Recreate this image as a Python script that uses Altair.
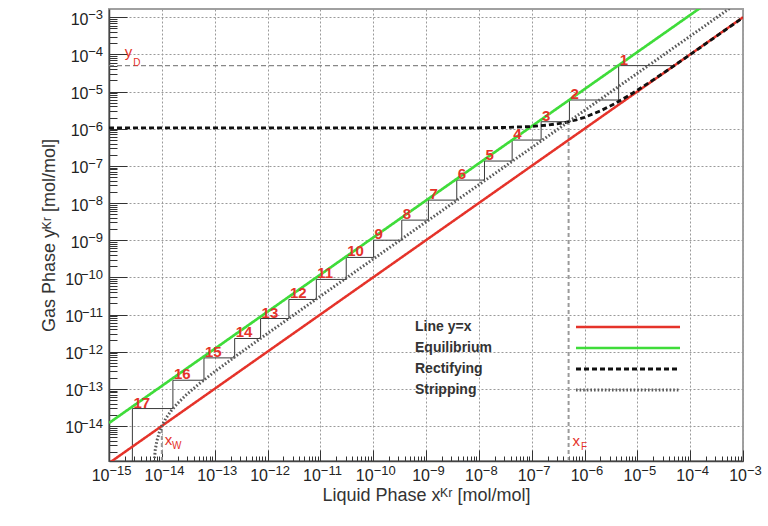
import altair as alt
import pandas as pd

# ---------------- data ----------------
SERIES = ["Line y=x", "Equilibrium", "Rectifying", "Stripping"]

diag_x = [1e-15, 1e-3]
diag_y = [1e-15, 1e-3]

eq_x = [1e-15, 2e-4]
eq_y = [1.2e-14, 2.3e-3]

rect_x = [1e-15, 1e-12, 1e-9, 1e-8, 3e-8, 1e-7, 2e-7, 4e-7, 7e-7, 1e-6,
          2e-6, 4e-6, 7e-6, 1e-5, 2e-5, 5e-5, 1e-4, 1e-3]
rect_y = [1.05e-6, 1.05e-6, 1.05e-6, 1.06e-6, 1.08e-6, 1.15e-6, 1.25e-6, 1.44e-6, 1.74e-6, 2.03e-6,
          3.01e-6, 4.97e-6, 7.91e-6, 1.085e-5, 2.065e-5, 5.0e-5, 9.9e-5, 9.8e-4]

strip_x = [7e-15, 7.5e-15, 8e-15, 9e-15, 1e-14, 1.2e-14, 1.5e-14, 2e-14, 3e-14, 5e-14,
           1e-13, 3e-13, 1e-12, 1e-11, 1e-9, 1e-6, 1e-3]
strip_y = [7e-16, 2.25e-15, 3.8e-15, 6.9e-15, 1.0e-14, 1.62e-14, 2.55e-14, 4.1e-14, 7.2e-14, 1.34e-13,
           2.89e-13, 9.09e-13, 3.08e-12, 3.1e-11, 3.1e-9, 3.1e-6, 3.1e-3]

stage_labels = ["1", "2", "3", "4", "5", "6", "7", "8", "9", "10",
                "11", "12", "13", "14", "15", "16", "17"]
stage_x = [4.43e-6, 5.18e-7, 1.51e-7, 4.27e-8, 1.28e-8, 3.82e-9, 1.11e-9, 3.48e-10, 1.02e-10, 3.09e-11,
           8.4e-12, 2.54e-12, 7.4e-13, 2.39e-13, 6.27e-14, 1.62e-14, 2.77e-15]
stage_y = [5.0e-5, 5.93e-6, 1.543e-6, 4.96e-7, 1.35e-7, 4.15e-8, 1.2e-8, 3.47e-9, 1.0e-9, 3.44e-10,
           8.8e-11, 2.54e-11, 7.8e-12, 2.26e-12, 6.8e-13, 1.7e-13, 2.94e-14]

x_D = 5e-5
y_D = 5e-5
x_F = 5e-7
y_F = 1.54e-6
x_W = 1e-14

x_domain = [1e-15, 1e-3]
y_domain = [1.14e-15, 1.67e-3]

tick_base = "10"
tick_exponents = ["−15", "−14", "−13", "−12", "−11", "−10", "−9",
                  "−8", "−7", "−6", "−5", "−4", "−3"]
x_major = [1e-15, 1e-14, 1e-13, 1e-12, 1e-11, 1e-10, 1e-9, 1e-8, 1e-7, 1e-6, 1e-5, 1e-4, 1e-3]
y_major = [1e-14, 1e-13, 1e-12, 1e-11, 1e-10, 1e-9, 1e-8, 1e-7, 1e-6, 1e-5, 1e-4, 1e-3]

# annotation letters: (text, x, y)
ann_main = [("y", 1.98e-15, 8.5e-5), ("x", 1.13e-14, 3.03e-15), ("x", 5.9e-7, 2.84e-15)]
ann_sub = [("D", 2.87e-15, 4.9e-5), ("W", 1.56e-14, 2.36e-15), ("F", 8.6e-7, 2.22e-15)]

# ---------------- tables ----------------
rows = []
for name, xs, ys in zip(SERIES, [diag_x, eq_x, rect_x, strip_x], [diag_y, eq_y, rect_y, strip_y]):
    for i, (a, b) in enumerate(zip(xs, ys)):
        rows.append({"x": a, "y": b, "series": name, "i": i})
lines_df = pd.DataFrame(rows)

step_pts = [(x_D, stage_y[0])]
for k in range(len(stage_x)):
    step_pts.append((stage_x[k], stage_y[k]))
    nxt = stage_y[k + 1] if k + 1 < len(stage_y) else y_domain[0]
    step_pts.append((stage_x[k], nxt))
steps_df = pd.DataFrame({"x": [p[0] for p in step_pts], "y": [p[1] for p in step_pts],
                         "k": list(range(len(step_pts)))})

yd_df = pd.DataFrame({"x": [x_domain[0], stage_x[0]], "y": [y_D, y_D]})
mark_df = pd.DataFrame({"x": [x_F, x_W], "y0": [y_domain[0], y_domain[0]], "y1": [y_F, x_W]})
stage_df = pd.DataFrame({"x": stage_x, "y": stage_y, "t": stage_labels})
ann_main_df = pd.DataFrame(ann_main, columns=["t", "x", "y"])
ann_sub_df = pd.DataFrame(ann_sub, columns=["t", "x", "y"])

# ---------------- styling ----------------
FONT = "Liberation Sans"
W, H = 634, 452
RED = "#e5332a"

x_minor = [m * 10.0 ** e for e in range(-15, -3) for m in range(2, 10)]
y_minor = [m * 10.0 ** e for e in range(-15, -3) for m in range(2, 10) if m * 10.0 ** e >= y_domain[0]]

base_expr = "'" + tick_base + "'"
exp_expr = "[" + ",".join("'" + s + "'" for s in tick_exponents) + "][round(log(datum.value)/LN10) + 15]"
major_test = "abs(log(datum.value)/LN10 - round(log(datum.value)/LN10)) < 0.01"
two_digit = "abs(round(log(datum.value)/LN10)) >= 10"

xscale = alt.Scale(type="log", domain=x_domain, nice=False)
yscale = alt.Scale(type="log", domain=y_domain, nice=False)

common = dict(ticks=False, domain=False, labelOverlap=False, labelFlush=False, labelFont=FONT,
              labelColor="#222")

x_axis_base = alt.Axis(values=x_major, labelExpr=base_expr, grid=True,
                       gridColor="#9a9a9a", gridDash=[2, 2], gridWidth=1,
                       labelFontSize=16, labelAlign="right", labelBaseline="top",
                       labelOffset=alt.condition(two_digit, alt.value(0), alt.value(3.5)), labelPadding=6,
                       title="Liquid Phase xᴷʳ [mol/mol]", titleFont=FONT, titleFontSize=18,
                       titleFontWeight="normal", titleColor="#333", titlePadding=3, **common)
x_axis_exp = alt.Axis(values=x_major, labelExpr=exp_expr, grid=False,
                      labelFontSize=13, labelAlign="left", labelBaseline="top",
                      labelOffset=alt.condition(two_digit, alt.value(0), alt.value(3.5)), labelPadding=3,
                      title=None, **common)
y_axis_base = alt.Axis(values=y_major, labelExpr=base_expr, grid=True,
                       gridColor="#9a9a9a", gridDash=[2, 2], gridWidth=1,
                       labelFontSize=16, labelAlign="right", labelBaseline="middle", labelOffset=2,
                       labelPadding=alt.condition(two_digit, alt.value(26.5), alt.value(21)),
                       title="Gas Phase yᴷʳ [mol/mol]", titleFont=FONT, titleFontSize=18,
                       titleFontWeight="normal", titleColor="#333", titlePadding=6, **common)
y_axis_exp = alt.Axis(values=y_major, labelExpr=exp_expr, grid=False,
                      labelFontSize=13, labelAlign="right", labelBaseline="alphabetic", labelOffset=1.5,
                      labelPadding=6.5, title=None, **common)
x_axis_ticks = alt.Axis(orient="top", offset=-H, values=x_major + x_minor, labels=False, grid=False,
                        domain=True, domainColor="#444", domainWidth=1.5, tickColor="#333", tickWidth=1,
                        tickSize=alt.condition(major_test, alt.value(11), alt.value(5)), title=None)
y_axis_ticks = alt.Axis(orient="right", offset=-W, values=y_major + y_minor, labels=False, grid=False,
                        domain=True, domainColor="#444", domainWidth=1.5, tickColor="#333", tickWidth=1,
                        tickSize=alt.condition(major_test, alt.value(18), alt.value(8)), title=None)

legend = alt.Legend(title=None, orient="none", legendX=306, legendY=310, symbolType="M-8,0H8",
                    symbolSize=169, symbolOffset=205, labelOffset={"expr": "-221"}, labelAlign="left",
                    labelFont=FONT, labelFontSize=14, labelFontWeight="bold", labelColor="#333",
                    rowPadding=6, padding=0)

lines = alt.Chart(lines_df).mark_line(clip=True).encode(
    x=alt.X("x:Q", scale=xscale, axis=x_axis_base),
    y=alt.Y("y:Q", scale=yscale, axis=y_axis_base),
    color=alt.Color("series:N", scale=alt.Scale(domain=SERIES, range=[RED, "#3fdc3a", "#111111", "#5a5a5a"]),
                    legend=legend, sort=SERIES),
    strokeDash=alt.StrokeDash("series:N", scale=alt.Scale(domain=SERIES, range=[[1, 0], [1, 0], [5, 3], [1.6, 2]]),
                              legend=legend, sort=SERIES),
    strokeWidth=alt.StrokeWidth("series:N", scale=alt.Scale(domain=SERIES, range=[2.5, 3, 2, 1.3]),
                                legend=legend, sort=SERIES),
    order="i:Q",
)

steps = alt.Chart(steps_df).mark_line(clip=True, color="#3a3a3a", strokeWidth=1).encode(
    x=alt.X("x:Q", scale=xscale, axis=x_axis_ticks),
    y=alt.Y("y:Q", scale=yscale, axis=y_axis_ticks),
    order="k:Q",
)

ydl = alt.Chart(yd_df).mark_line(clip=True, color="#888", strokeDash=[5, 3], strokeWidth=1.2).encode(
    x=alt.X("x:Q", scale=xscale, axis=x_axis_exp),
    y=alt.Y("y:Q", scale=yscale, axis=y_axis_exp),
)

marks = alt.Chart(mark_df).mark_rule(clip=True, color="#9a9a9a", strokeDash=[4, 3], strokeWidth=2).encode(
    x=alt.X("x:Q", scale=xscale, axis=None),
    y=alt.Y("y0:Q", scale=yscale, axis=None),
    y2="y1:Q",
)

stage_text = alt.Chart(stage_df).mark_text(align="left", baseline="alphabetic", dx=1, dy=-1, color=RED,
                                           font=FONT, fontSize=15, fontWeight="bold").encode(
    x=alt.X("x:Q", scale=xscale, axis=None),
    y=alt.Y("y:Q", scale=yscale, axis=None),
    text="t:N",
)

ann1 = alt.Chart(ann_main_df).mark_text(align="left", baseline="alphabetic", color=RED, font=FONT,
                                         fontSize=15).encode(
    x=alt.X("x:Q", scale=xscale, axis=None),
    y=alt.Y("y:Q", scale=yscale, axis=None),
    text="t:N",
)
ann2 = alt.Chart(ann_sub_df).mark_text(align="left", baseline="alphabetic", color=RED, font=FONT,
                                        fontSize=10).encode(
    x=alt.X("x:Q", scale=xscale, axis=None),
    y=alt.Y("y:Q", scale=yscale, axis=None),
    text="t:N",
)

chart = alt.layer(marks, ydl, steps, lines, stage_text, ann1, ann2).resolve_axis(
    x="independent", y="independent"
).properties(
    width=W, height=H,
    autosize=alt.AutoSizeParams(type="none"),
    padding={"left": 109, "top": 9, "right": 25, "bottom": 65},
    background="white",
).configure_view(stroke="#a0a0a0", strokeWidth=2)

chart.save("out.html", embed_options={"renderer": "svg", "actions": False})
